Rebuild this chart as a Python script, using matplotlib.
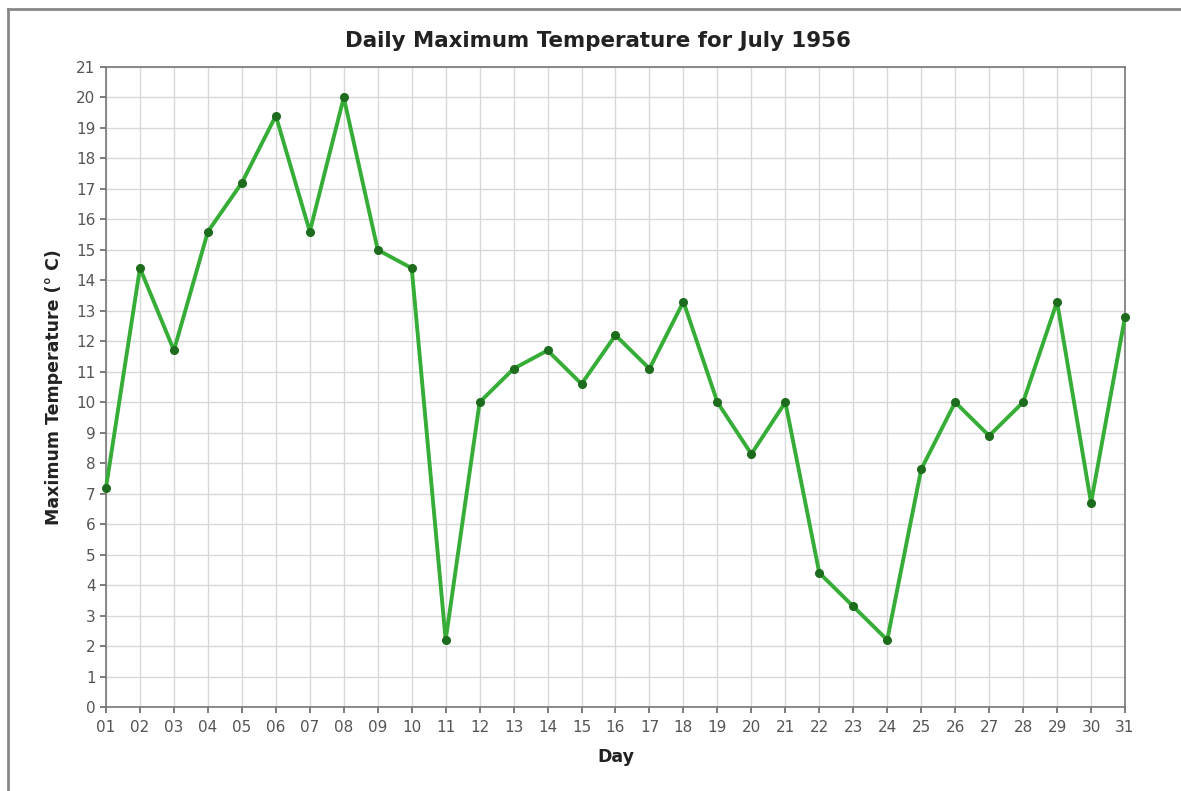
import matplotlib.pyplot as plt
from matplotlib.lines import Line2D

# Daily maximum temperature, July 1956 (deg C)
days = list(range(1, 32))
day_labels = [f"{d:02d}" for d in days]
max_temp = [7.2, 14.4, 11.7, 15.6, 17.2, 19.4, 15.6, 20.0, 15.0, 14.4,
            2.2, 10.0, 11.1, 11.7, 10.6, 12.2, 11.1, 13.3, 10.0, 8.3,
            10.0, 4.4, 3.3, 2.2, 7.8, 10.0, 8.9, 10.0, 13.3, 6.7, 12.8]
y_ticks = list(range(0, 22))

plt.rcParams['font.family'] = ['DejaVu Sans']

fig = plt.figure(figsize=(11.81, 7.91), dpi=100)
ax = fig.add_axes([106 / 1181, 1 - 707 / 791, (1125 - 106) / 1181, (707 - 67) / 791])

ax.plot(days, max_temp, color='#36ad36', lw=2.8, marker='o', markersize=5.5,
        markerfacecolor='#1d6b1d', markeredgecolor='#1d6b1d', zorder=3, clip_on=False)

ax.set_xlim(1, 31)
ax.set_ylim(0, 21)
ax.set_xticks(days)
ax.set_xticklabels(day_labels)
ax.set_yticks(y_ticks)
ax.grid(True, color='#d8d8d8', lw=1)
ax.set_axisbelow(True)
for s in ax.spines.values():
    s.set_color('#777777')
    s.set_linewidth(1.2)
ax.tick_params(axis='both', colors='#666666', labelcolor='#555555', labelsize=11, length=4, width=1.2)
ax.tick_params(axis='x', pad=5)

fig.text(598 / 1181, 1 - 41 / 791, 'Daily Maximum Temperature for July 1956', fontsize=15.4,
         fontweight='bold', color='#222222', ha='center', va='center')
ax.set_xlabel('Day', fontsize=12.5, fontweight='bold', color='#222222')
ax.xaxis.set_label_coords(0.5, (707 - 748) / 640)
ax.set_ylabel('Maximum Temperature (° C)', fontsize=12.5, fontweight='bold', color='#222222')
ax.yaxis.set_label_coords((63 - 106) / 1019, 0.5)

# outer frame (top and left edges of the cropped chart border)
fig.add_artist(Line2D([8 / 1181, 8 / 1181], [0, 1 - 9 / 791], transform=fig.transFigure, color='#888888', lw=2))
fig.add_artist(Line2D([8 / 1181, 1], [1 - 9 / 791, 1 - 9 / 791], transform=fig.transFigure, color='#888888', lw=2))

fig.savefig('out.png', dpi=100, facecolor='white')
